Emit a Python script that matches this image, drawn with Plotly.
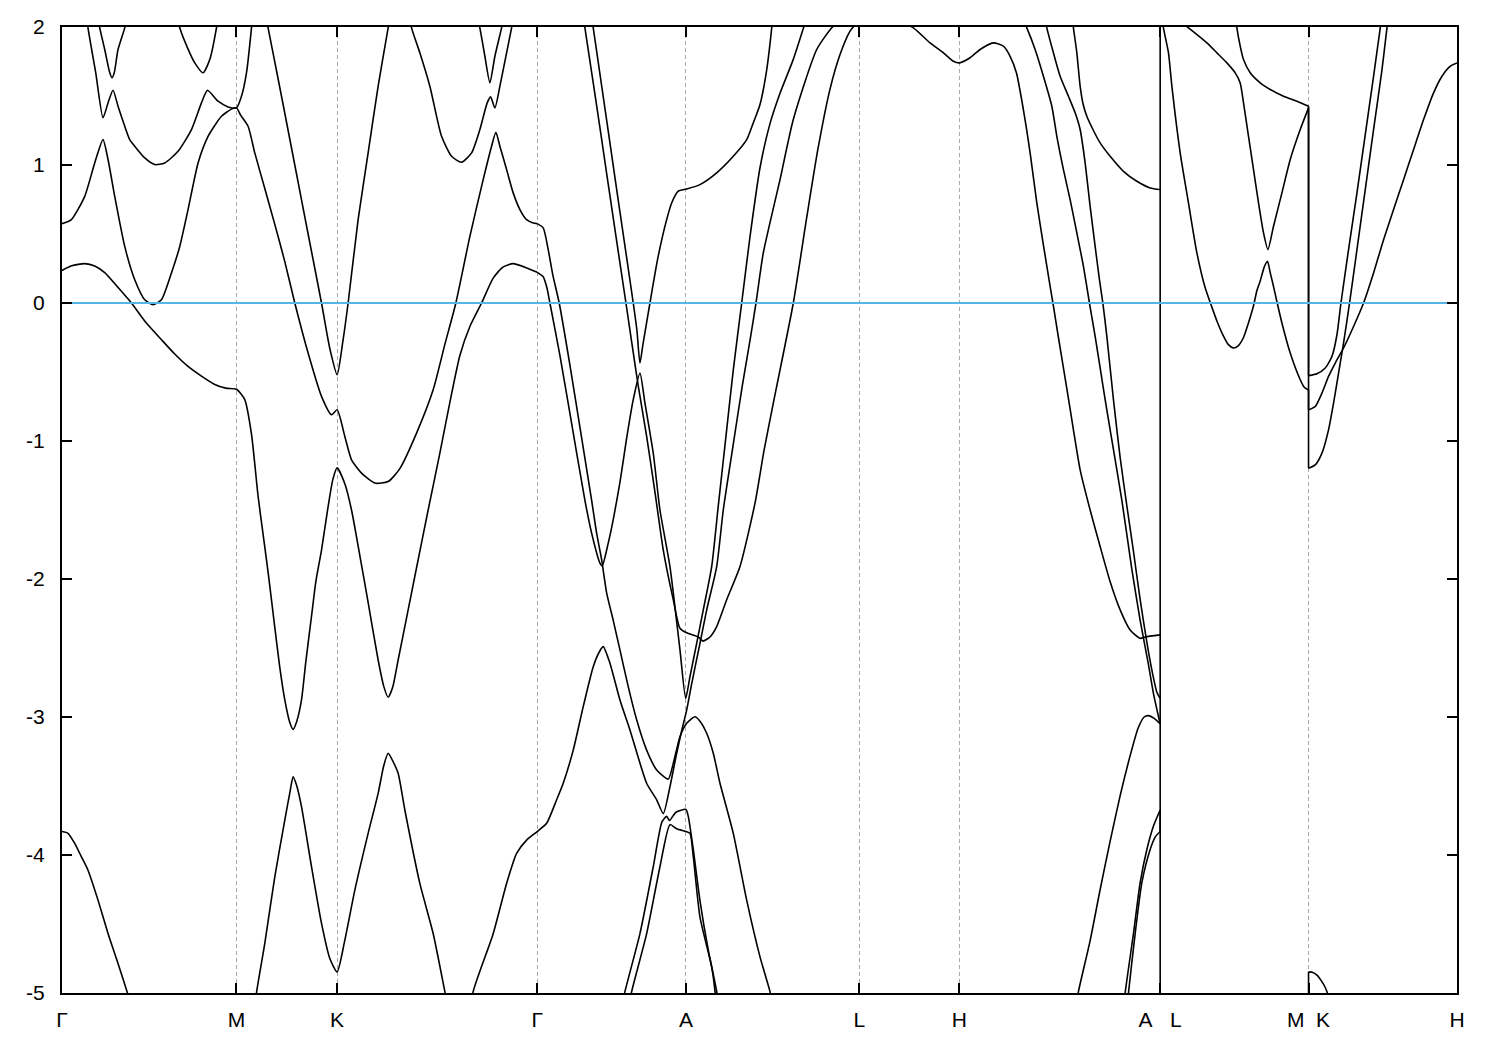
import plotly.graph_objects as go

# ---- axis definitions -------------------------------------------------
kpoint_labels = ["Γ", "M", "K", "Γ", "A", "L", "H",
                 "A\u00a0\u00a0\u00a0L", "M\u00a0\u00a0K", "H"]
kpoint_positions = [0.000, 1.744, 2.750, 4.750, 6.237, 7.970, 8.970,
                    10.977, 12.460, 13.944]
energy_ticks = [-5, -4, -3, -2, -1, 0, 1, 2]
energy_tick_text = ["-5", "-4", "-3", "-2", "-1", "0", "1", "2"]
energy_range = [-5, 2]
fermi_level = 0.0

# ---- band data: (k, E) pairs -------------------------------------------
band_01 = [(0.000, 0.236), (0.097, 0.270), (0.227, 0.285), (0.327, 0.268), (0.427, 0.220),
           (0.557, 0.115), (0.694, 0.000), (0.837, -0.140), (0.994, -0.266), (1.127, -0.370),
           (1.260, -0.460), (1.394, -0.530), (1.527, -0.590), (1.637, -0.617), (1.744, -0.625),
           (1.827, -0.700), (1.894, -0.950), (1.960, -1.400), (2.007, -1.660), (2.060, -1.950),
           (2.127, -2.350), (2.177, -2.640), (2.227, -2.876), (2.277, -3.040), (2.310, -3.090),
           (2.347, -3.030), (2.394, -2.876), (2.437, -2.600), (2.494, -2.270), (2.537, -2.020),
           (2.594, -1.790), (2.660, -1.475), (2.707, -1.280), (2.750, -1.195), (2.827, -1.310),
           (2.894, -1.500), (2.977, -1.830), (3.060, -2.170), (3.160, -2.587), (3.217, -2.780),
           (3.260, -2.857), (3.307, -2.780), (3.360, -2.587), (3.460, -2.224), (3.527, -1.980),
           (3.660, -1.500), (3.777, -1.088), (3.877, -0.720), (3.977, -0.380), (4.077, -0.170),
           (4.194, 0.000), (4.310, 0.180), (4.407, 0.260), (4.510, 0.285), (4.644, 0.254),
           (4.750, 0.222)]
band_02 = [(0.000, 0.575), (0.094, 0.604), (0.227, 0.773), (0.327, 1.015), (0.410, 1.184),
           (0.460, 1.040), (0.527, 0.773), (0.627, 0.410), (0.727, 0.169), (0.827, 0.024),
           (0.910, -0.012), (0.994, 0.024), (1.094, 0.218), (1.177, 0.410), (1.260, 0.677),
           (1.360, 1.015), (1.460, 1.208), (1.594, 1.353), (1.694, 1.405), (1.744, 1.414),
           (1.787, 1.360), (1.860, 1.281), (1.927, 1.088), (2.027, 0.830), (2.127, 0.570),
           (2.227, 0.300), (2.327, 0.000), (2.460, -0.363), (2.594, -0.677), (2.694, -0.810),
           (2.750, -0.774), (2.827, -0.967), (2.894, -1.136), (2.994, -1.233), (3.127, -1.305),
           (3.260, -1.294), (3.377, -1.200), (3.544, -0.943), (3.710, -0.629), (3.827, -0.300),
           (3.937, 0.000), (4.077, 0.483), (4.210, 0.894), (4.294, 1.136), (4.337, 1.237),
           (4.377, 1.136), (4.444, 0.967), (4.510, 0.798), (4.577, 0.677), (4.644, 0.604),
           (4.710, 0.580), (4.750, 0.575)]
band_03 = [(0.237, 2.150), (0.260, 1.994), (0.337, 1.670), (0.410, 1.342), (0.460, 1.450),
           (0.510, 1.542), (0.560, 1.426), (0.627, 1.281), (0.677, 1.184), (0.727, 1.136),
           (0.827, 1.051), (0.927, 1.003), (1.027, 1.015), (1.160, 1.099), (1.294, 1.257),
           (1.394, 1.450), (1.454, 1.542), (1.560, 1.462), (1.660, 1.421), (1.744, 1.414),
           (1.794, 1.498), (1.844, 1.668), (1.894, 1.994), (1.907, 2.100)]
band_04 = [(0.360, 2.060), (0.377, 1.994), (0.427, 1.837), (0.477, 1.670), (0.500, 1.632),
           (0.523, 1.670), (0.560, 1.837), (0.627, 1.994), (0.645, 2.060)]
band_05 = [(1.160, 2.050), (1.177, 1.994), (1.260, 1.840), (1.327, 1.740), (1.410, 1.668),
           (1.477, 1.764), (1.544, 1.994), (1.555, 2.050)]
band_06 = [(4.160, 2.050), (4.177, 1.994), (4.227, 1.788), (4.277, 1.595), (4.327, 1.788),
           (4.394, 1.994), (4.410, 2.050)]
band_07 = [(2.040, 2.070), (2.060, 1.994), (2.160, 1.625), (2.227, 1.375), (2.327, 1.000),
           (2.460, 0.500), (2.594, 0.000), (2.677, -0.330), (2.750, -0.520), (2.807, -0.280),
           (2.860, 0.000), (2.960, 0.604), (3.060, 1.088), (3.160, 1.571), (3.260, 1.994),
           (3.280, 2.080)]
band_08 = [(3.480, 2.060), (3.494, 1.994), (3.577, 1.813), (3.677, 1.571), (3.794, 1.208),
           (3.894, 1.063), (3.994, 1.020), (4.094, 1.088), (4.177, 1.257), (4.250, 1.450),
           (4.284, 1.494), (4.327, 1.414), (4.377, 1.571), (4.444, 1.813), (4.494, 1.994),
           (4.510, 2.060)]
band_09 = [(0.000, -3.830), (0.060, -3.843), (0.127, -3.916), (0.194, -4.013), (0.260, -4.110),
           (0.360, -4.327), (0.460, -4.569), (0.560, -4.786), (0.654, -5.000), (0.700, -5.120)]
band_10 = [(1.917, -5.200), (1.944, -5.000), (2.027, -4.641), (2.127, -4.158), (2.227, -3.747),
           (2.277, -3.550), (2.310, -3.433), (2.347, -3.500), (2.394, -3.650), (2.494, -4.085),
           (2.594, -4.496), (2.677, -4.750), (2.750, -4.847), (2.827, -4.617), (2.927, -4.254),
           (3.060, -3.843), (3.160, -3.553), (3.217, -3.350), (3.260, -3.263), (3.307, -3.320),
           (3.360, -3.408), (3.427, -3.674), (3.577, -4.206), (3.710, -4.569), (3.827, -4.990),
           (3.857, -5.100)]
band_11 = [(4.077, -5.200), (4.110, -4.990), (4.310, -4.570), (4.444, -4.206), (4.544, -3.988),
           (4.644, -3.892), (4.750, -3.830), (4.844, -3.770), (4.944, -3.600), (5.010, -3.480),
           (5.110, -3.240), (5.210, -2.925), (5.310, -2.635), (5.377, -2.520), (5.410, -2.490),
           (5.477, -2.610), (5.577, -2.877), (5.677, -3.094), (5.844, -3.480), (5.944, -3.600),
           (6.010, -3.700), (6.077, -3.505), (6.144, -3.263), (6.194, -3.100), (6.244, -2.950),
           (6.294, -2.760), (6.377, -2.466), (6.444, -2.224), (6.544, -1.910), (6.610, -1.500),
           (6.700, -1.070), (6.800, -0.600), (6.877, -0.270), (6.937, 0.000), (7.010, 0.363),
           (7.177, 0.894), (7.310, 1.330), (7.544, 1.837), (7.694, 1.994), (7.777, 2.050)]
band_12 = [(4.750, 0.222), (4.810, 0.190), (4.847, 0.110), (4.877, 0.000), (4.977, -0.380),
           (5.077, -0.800), (5.227, -1.430), (5.294, -1.668), (5.377, -1.885), (5.400, -1.905),
           (5.460, -1.740), (5.510, -1.570), (5.577, -1.300), (5.644, -0.980), (5.710, -0.700),
           (5.777, -0.508), (5.827, -0.725), (5.910, -1.088), (5.977, -1.500), (6.077, -1.910),
           (6.177, -2.514), (6.234, -2.865), (6.277, -2.708), (6.344, -2.466), (6.410, -2.224),
           (6.494, -1.910), (6.560, -1.470), (6.627, -1.030), (6.710, -0.484), (6.794, 0.000),
           (6.877, 0.480), (6.977, 0.980), (7.077, 1.300), (7.177, 1.520), (7.307, 1.760),
           (7.410, 1.990), (7.457, 2.100)]
band_13 = [(4.750, 0.575), (4.810, 0.544), (4.860, 0.387), (4.907, 0.200), (4.970, 0.000),
           (5.077, -0.450), (5.177, -0.900), (5.294, -1.430), (5.344, -1.668), (5.394, -1.860),
           (5.444, -2.100), (5.510, -2.300), (5.577, -2.514), (5.660, -2.780), (5.744, -3.020),
           (5.844, -3.240), (5.944, -3.384), (6.060, -3.450), (6.110, -3.336), (6.177, -3.143),
           (6.244, -3.046), (6.327, -2.998), (6.377, -3.030), (6.444, -3.118), (6.510, -3.263),
           (6.577, -3.480), (6.710, -3.843), (6.844, -4.327), (6.977, -4.738), (7.077, -4.990),
           (7.107, -5.100)]
band_14 = [(5.207, 2.100), (5.227, 1.994), (5.310, 1.595), (5.377, 1.270), (5.444, 0.940),
           (5.544, 0.450), (5.637, 0.000), (5.710, -0.360), (5.760, -0.600), (5.844, -0.967),
           (5.927, -1.370), (6.010, -1.790), (6.110, -2.150), (6.177, -2.357), (6.244, -2.390),
           (6.360, -2.420), (6.407, -2.450), (6.477, -2.420), (6.544, -2.345), (6.644, -2.150),
           (6.777, -1.910), (6.927, -1.450), (7.017, -1.070), (7.110, -0.725), (7.310, 0.000),
           (7.444, 0.620), (7.557, 1.120), (7.677, 1.550), (7.777, 1.800), (7.877, 1.970),
           (7.970, 2.050)]
band_15 = [(5.287, 2.100), (5.310, 1.994), (5.377, 1.660), (5.477, 1.160), (5.577, 0.660),
           (5.710, 0.000), (5.747, -0.200), (5.777, -0.435), (5.807, -0.300), (5.877, 0.000),
           (5.957, 0.330), (6.044, 0.604), (6.097, 0.730), (6.160, 0.810), (6.244, 0.826),
           (6.377, 0.858), (6.544, 0.943), (6.710, 1.063), (6.844, 1.184), (6.907, 1.300),
           (6.977, 1.438), (7.044, 1.690), (7.094, 1.994), (7.107, 2.100)]
band_16 = [(5.597, -5.100), (5.627, -4.990), (5.777, -4.570), (5.910, -4.085), (5.997, -3.760),
           (6.044, -3.720), (6.072, -3.750), (6.137, -3.690), (6.237, -3.670), (6.260, -3.720),
           (6.310, -3.960), (6.377, -4.330), (6.460, -4.690), (6.544, -4.990), (6.557, -5.100)]
band_17 = [(5.667, -5.100), (5.694, -4.990), (5.844, -4.570), (5.977, -4.085), (6.077, -3.780),
           (6.144, -3.810), (6.237, -3.830), (6.277, -3.843), (6.310, -4.010), (6.377, -4.450),
           (6.494, -4.810), (6.527, -4.990), (6.537, -5.100)]
band_18 = [(8.350, 2.050), (8.510, 1.994), (8.677, 1.885), (8.810, 1.813), (8.910, 1.752),
           (8.970, 1.740), (9.077, 1.777), (9.177, 1.837), (9.310, 1.885), (9.410, 1.861),
           (9.477, 1.788), (9.540, 1.668), (9.610, 1.400), (9.677, 1.088), (9.744, 0.725),
           (9.810, 0.420), (9.877, 0.120), (9.905, 0.000), (9.960, -0.250), (10.044, -0.620),
           (10.110, -0.919), (10.177, -1.209), (10.277, -1.500), (10.377, -1.765), (10.477, -2.020),
           (10.577, -2.224), (10.677, -2.370), (10.777, -2.430), (10.827, -2.420), (10.977, -2.405)]
band_19 = [(9.600, 2.060), (9.644, 1.994), (9.727, 1.837), (9.810, 1.643), (9.894, 1.426),
           (9.944, 1.208), (10.010, 0.967), (10.077, 0.749), (10.144, 0.508), (10.210, 0.265),
           (10.270, 0.000), (10.327, -0.242), (10.377, -0.470), (10.427, -0.701), (10.477, -0.919),
           (10.594, -1.430), (10.694, -1.930), (10.777, -2.300), (10.860, -2.620), (10.910, -2.830),
           (10.977, -3.050)]
band_20 = [(9.825, 2.060), (9.844, 1.994), (9.910, 1.813), (9.977, 1.643), (10.060, 1.498),
           (10.127, 1.378), (10.177, 1.257), (10.227, 1.015), (10.277, 0.700), (10.327, 0.410),
           (10.370, 0.169), (10.404, 0.000), (10.444, -0.242), (10.510, -0.700), (10.577, -1.120),
           (10.644, -1.470), (10.710, -1.800), (10.777, -2.150), (10.844, -2.460), (10.894, -2.660),
           (10.944, -2.820), (10.977, -2.865)]
band_21 = [(10.095, 2.100), (10.110, 1.994), (10.144, 1.813), (10.177, 1.571), (10.207, 1.440),
           (10.244, 1.353), (10.310, 1.250), (10.377, 1.160), (10.477, 1.063), (10.610, 0.954),
           (10.744, 0.882), (10.877, 0.834), (10.977, 0.822)]
band_22 = [(10.137, -5.100), (10.160, -4.990), (10.277, -4.620), (10.377, -4.250), (10.477, -3.900),
           (10.577, -3.570), (10.677, -3.280), (10.757, -3.080), (10.817, -3.000), (10.860, -2.990),
           (10.917, -3.010), (10.977, -3.050)]
band_23 = [(10.617, -5.100), (10.627, -5.000), (10.710, -4.570), (10.777, -4.200), (10.844, -3.960),
           (10.910, -3.790), (10.977, -3.674), (10.977, -5.500)]
band_24 = [(10.647, -5.100), (10.660, -5.000), (10.727, -4.570), (10.794, -4.200), (10.877, -3.960),
           (10.927, -3.870), (10.977, -3.830), (10.977, 2.200), (11.010, 1.994), (11.060, 1.813),
           (11.094, 1.571), (11.177, 1.088), (11.260, 0.725), (11.344, 0.363), (11.427, 0.110),
           (11.494, -0.030), (11.544, -0.130), (11.610, -0.240), (11.657, -0.300), (11.710, -0.326),
           (11.757, -0.310), (11.810, -0.250), (11.857, -0.150), (11.910, -0.020), (11.944, 0.090),
           (11.977, 0.160), (12.017, 0.260), (12.050, 0.302), (12.077, 0.220), (12.110, 0.120),
           (12.147, 0.000), (12.194, -0.145), (12.277, -0.363), (12.377, -0.556), (12.417, -0.610),
           (12.460, -0.630), (12.460, -1.197), (12.527, -1.173), (12.594, -1.088), (12.660, -0.919),
           (12.710, -0.725), (12.760, -0.508), (12.810, -0.290), (12.870, 0.000), (12.944, 0.387),
           (13.027, 0.822), (13.110, 1.257), (13.194, 1.690), (13.244, 1.994), (13.262, 2.100)]
band_25 = [(11.100, 2.080), (11.260, 1.994), (11.444, 1.885), (11.544, 1.813), (11.644, 1.740),
           (11.727, 1.668), (11.777, 1.595), (11.810, 1.450), (11.860, 1.208), (11.910, 0.967),
           (11.960, 0.725), (12.010, 0.508), (12.054, 0.387), (12.110, 0.556), (12.194, 0.798),
           (12.277, 1.040), (12.377, 1.257), (12.460, 1.414), (12.460, -0.527), (12.544, -0.513),
           (12.627, -0.471), (12.694, -0.387), (12.744, -0.230), (12.784, 0.000), (12.860, 0.387),
           (12.944, 0.798), (13.027, 1.220), (13.110, 1.643), (13.177, 1.994), (13.197, 2.100)]
band_26 = [(11.730, 2.100), (11.744, 1.994), (11.777, 1.861), (11.810, 1.764), (11.877, 1.668),
           (11.977, 1.595), (12.077, 1.547), (12.210, 1.498), (12.344, 1.462), (12.460, 1.426),
           (12.460, -0.774), (12.527, -0.750), (12.594, -0.653), (12.660, -0.532), (12.727, -0.435),
           (12.810, -0.326), (12.910, -0.170), (13.010, 0.000), (13.110, 0.218), (13.210, 0.459),
           (13.310, 0.677), (13.410, 0.894), (13.510, 1.112), (13.610, 1.329), (13.710, 1.523),
           (13.794, 1.643), (13.877, 1.716), (13.944, 1.740)]
band_27 = [(12.460, -5.500), (12.460, -4.847), (12.497, -4.850), (12.544, -4.870), (12.587, -4.910),
           (12.627, -4.960), (12.657, -5.020), (12.680, -5.100)]

bands = [band_01, band_02, band_03, band_04, band_05, band_06, band_07, band_08, band_09,
         band_10, band_11, band_12, band_13, band_14, band_15, band_16, band_17, band_18,
         band_19, band_20, band_21, band_22, band_23, band_24, band_25, band_26, band_27]


def split_band(band):
    """Split a band into smooth runs and vertical jumps (same k twice)."""
    runs, cur = [], [band[0]]
    for p in band[1:]:
        if abs(p[0] - cur[-1][0]) < 1e-9:
            runs.append(("run", cur))
            runs.append(("jump", [cur[-1], p]))
            cur = [p]
        else:
            cur.append(p)
    runs.append(("run", cur))
    return runs


# ---- figure -----------------------------------------------------------
fig = go.Figure()
for band in bands:
    for kind, pts in split_band(band):
        if len(pts) < 2:
            continue
        ks = [p[0] for p in pts]
        es = [p[1] for p in pts]
        if kind == "run":
            line = dict(color="black", width=1.6, shape="spline", smoothing=0.6)
        else:
            line = dict(color="black", width=1.6)
        fig.add_trace(go.Scatter(x=ks, y=es, mode="lines", line=line,
                                 hoverinfo="skip", showlegend=False))

fig.add_trace(go.Scatter(x=[kpoint_positions[0], kpoint_positions[-1]],
                         y=[fermi_level, fermi_level], mode="lines",
                         line=dict(color="#56B4E9", width=2),
                         hoverinfo="skip", showlegend=False))

fig.update_layout(
    width=1500, height=1050,
    margin=dict(l=62, r=43, t=27, b=57, pad=0),
    plot_bgcolor="white", paper_bgcolor="white",
    font=dict(family="Liberation Sans, Arial, sans-serif", size=21, color="black"),
    showlegend=False,
)
fig.update_xaxes(
    range=[kpoint_positions[0], kpoint_positions[-1]],
    tickmode="array", tickvals=kpoint_positions, ticktext=kpoint_labels,
    ticks="inside", ticklen=10, tickwidth=2, tickcolor="black",
    showline=True, linecolor="black", linewidth=2, mirror="ticks",
    showgrid=True, gridcolor="#a8a8a8", gridwidth=1, griddash="4px,3px",
    zeroline=False, ticklabelstandoff=7, automargin=False,
)
fig.update_yaxes(
    range=energy_range,
    tickmode="array", tickvals=energy_ticks, ticktext=energy_tick_text,
    ticks="inside", ticklen=10, tickwidth=2, tickcolor="black",
    showline=True, linecolor="black", linewidth=2, mirror="ticks",
    showgrid=False, zeroline=False, ticklabelstandoff=11, automargin=False,
)

fig.write_html("out.html",
               config={"displayModeBar": False},
               post_script="document.body.style.margin='0';document.body.style.overflow='hidden';")
